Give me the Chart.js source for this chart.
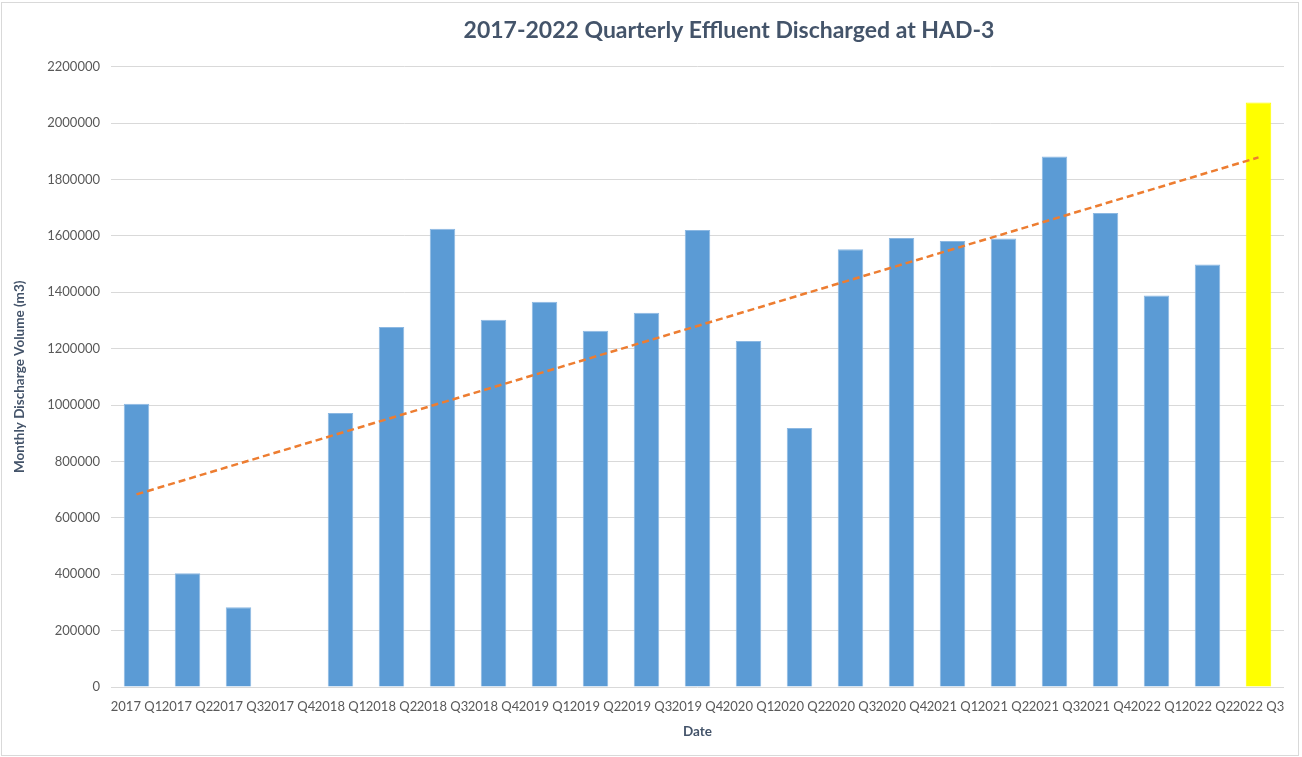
<!DOCTYPE html>
<html>
<head>
<meta charset="utf-8">
<script src="https://cdn.jsdelivr.net/npm/chart.js@4/dist/chart.umd.min.js"></script>
<style>
  html, body { margin: 0; padding: 0; background: #ffffff; }
  #wrap { width: 1302px; height: 757px; position: relative; }
</style>
</head>
<body>
<div id="wrap"><canvas id="c" width="1302" height="757"></canvas></div>
<script>
const categories = ["2017 Q1","2017 Q2","2017 Q3","2017 Q4","2018 Q1","2018 Q2","2018 Q3","2018 Q4",
  "2019 Q1","2019 Q2","2019 Q3","2019 Q4","2020 Q1","2020 Q2","2020 Q3","2020 Q4",
  "2021 Q1","2021 Q2","2021 Q3","2021 Q4","2022 Q1","2022 Q2","2022 Q3"];
const dischargeValues = [1004000, 403000, 283000, 0, 972000, 1277000, 1625000, 1302000,
  1366000, 1263000, 1327000, 1621000, 1227000, 918000, 1552000, 1592000,
  1582000, 1590000, 1881000, 1681000, 1388000, 1498000, 2073000];
const highlightCategory = "2022 Q3";
const trendStart = 683000;
const trendEnd = 1878000;
const yTicks = [0, 200000, 400000, 600000, 800000, 1000000, 1200000, 1400000, 1600000, 1800000, 2000000, 2200000];

const trendValues = categories.map((c, i) => i === 0 ? trendStart : (i === categories.length - 1 ? trendEnd : null));
const barColors = categories.map(c => c === highlightCategory ? '#FFFF00' : '#5B9BD5');

const FONT = "Lato, 'Open Sans', sans-serif";

const framePlugin = {
  id: 'frame',
  beforeDraw(chart) {
    const ctx = chart.ctx;
    ctx.save();
    ctx.fillStyle = '#ffffff';
    ctx.fillRect(0, 0, chart.width, chart.height);
    ctx.strokeStyle = '#D9D9D9';
    ctx.lineWidth = 1;
    ctx.strokeRect(1.5, 2.5, chart.width - 5, chart.height - 4);
    ctx.restore();
  }
};
const titleShift = {
  id: 'titleShift',
  afterLayout(chart) {
    const tb = chart.titleBlock;
    if (tb) { tb.left += 87; tb.right += 87; }
  }
};

new Chart(document.getElementById('c'), {
  data: {
    labels: categories,
    datasets: [
      {
        type: 'line',
        label: 'Linear trend',
        data: trendValues,
        spanGaps: true,
        borderColor: '#ED7D31',
        borderWidth: 2.5,
        borderDash: [7, 4],
        pointRadius: 0,
        fill: false,
        order: 0
      },
      {
        type: 'bar',
        label: 'Discharge',
        data: dischargeValues,
        backgroundColor: barColors,
        borderColor: categories.map(c => c === highlightCategory ? '#FFFF00' : '#8CB8E2'),
        borderWidth: 1,
        categoryPercentage: 0.5,
        barPercentage: 1.0,
        order: 1
      }
    ]
  },
  options: {
    responsive: false,
    animation: false,
    layout: { padding: { left: 0, right: 18, top: 0, bottom: 0 } },
    plugins: {
      legend: { display: false },
      tooltip: { enabled: false },
      title: {
        display: true,
        text: '2017-2022 Quarterly Effluent Discharged at HAD-3',
        color: '#44546A',
        font: { family: FONT, size: 23, weight: 'bold' },
        padding: { top: 17, bottom: 22 }
      }
    },
    scales: {
      x: {
        grid: { display: false, drawTicks: false },
        border: { display: false },
        ticks: {
          color: '#595959',
          font: { family: FONT, size: 13 },
          autoSkip: false,
          maxRotation: 0,
          minRotation: 0,
          padding: 12
        },
        title: {
          display: true,
          text: 'Date',
          color: '#44546A',
          font: { family: FONT, size: 13.5, weight: 'bold' },
          padding: { top: 10, bottom: 17 }
        },
        afterFit(scale) { scale.height = 70; }
      },
      y: {
        min: 0,
        max: 2200000,
        afterBuildTicks(scale) { scale.ticks = yTicks.map(v => ({ value: v })); },
        grid: { color: '#D9D9D9', lineWidth: 1, drawTicks: false },
        border: { display: false },
        ticks: {
          color: '#595959',
          font: { family: FONT, size: 13 },
          padding: 11,
          callback: (v) => String(v)
        },
        title: {
          display: true,
          text: 'Monthly Discharge Volume (m3)',
          color: '#44546A',
          font: { family: FONT, size: 13.5, weight: 'bold' },
          padding: { top: 12, bottom: 0 }
        },
        afterFit(scale) { scale.width = 111; }
      }
    }
  },
  plugins: [framePlugin, titleShift]
});
</script>
</body>
</html>
